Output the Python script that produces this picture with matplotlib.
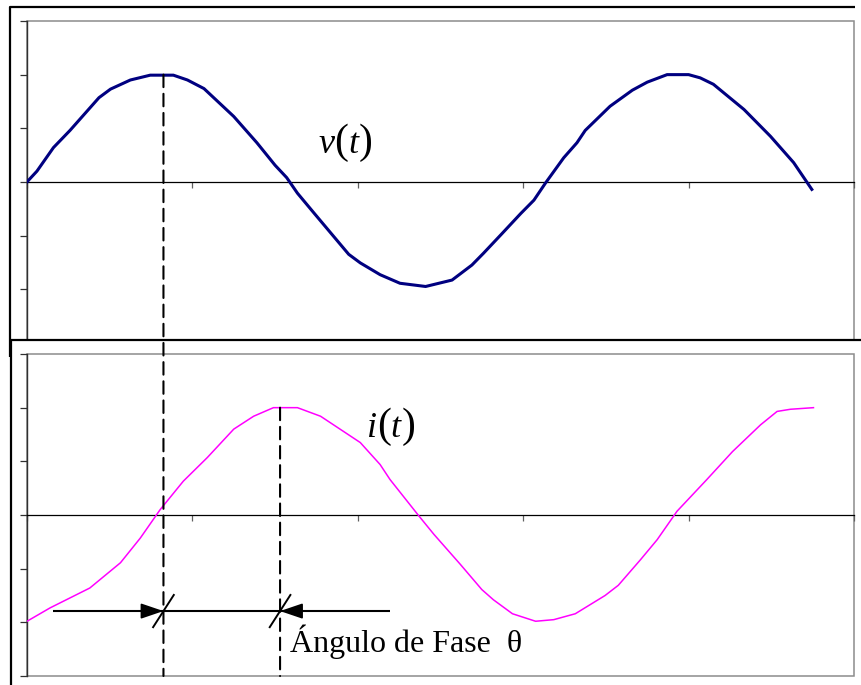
import matplotlib
matplotlib.use("Agg")
import matplotlib.pyplot as plt
from matplotlib.lines import Line2D
from matplotlib.patches import Rectangle, ConnectionPatch

# Voltage v(t) samples (time axis in radians)
t_v = [0.00, 0.12, 0.32, 0.52, 0.87, 1.01, 1.25, 1.49, 1.77, 1.94, 2.14, 2.50,
       2.78, 3.00, 3.14, 3.27, 3.47, 3.89, 4.03, 4.27, 4.51, 4.82, 5.14, 5.38,
       5.52, 5.74, 5.97, 6.13, 6.27, 6.49, 6.65, 6.75, 7.05, 7.32, 7.50, 7.74,
       8.00, 8.14, 8.30, 8.67, 8.99, 9.27, 9.49]
v = [0.00, 0.20, 0.64, 0.96, 1.57, 1.73, 1.90, 1.99, 1.99, 1.90, 1.74, 1.22,
     0.73, 0.31, 0.08, -0.21, -0.58, -1.35, -1.51, -1.73, -1.89, -1.95, -1.83, -1.55,
     -1.33, -0.97, -0.59, -0.34, -0.02, 0.45, 0.73, 0.96, 1.41, 1.71, 1.86, 2.00,
     2.00, 1.94, 1.82, 1.35, 0.85, 0.36, -0.14]

# Current i(t) samples
t_i = [0.00, 0.28, 0.76, 1.13, 1.37, 1.61, 1.89, 2.18, 2.50, 2.74, 2.98, 3.27,
       3.55, 4.03, 4.27, 4.39, 4.74, 4.92, 5.24, 5.50, 5.64, 5.87, 6.15, 6.37,
       6.63, 6.99, 7.15, 7.42, 7.62, 7.86, 8.22, 8.53, 8.87, 9.07, 9.23, 9.51]
i = [-1.98, -1.73, -1.36, -0.89, -0.43, 0.10, 0.63, 1.07, 1.60, 1.84, 2.00, 2.00,
     1.84, 1.35, 0.94, 0.66, -0.02, -0.36, -0.92, -1.39, -1.58, -1.84, -1.98, -1.95,
     -1.84, -1.50, -1.31, -0.83, -0.46, 0.07, 0.66, 1.18, 1.68, 1.93, 1.97, 2.00]

x_ticks = [0, 2, 4, 6, 8, 10]
y_ticks = [-3, -2, -1, 0, 1, 2, 3]

# Instants of the peaks used to mark the phase angle
t_v_peak = 1.65
t_i_peak = 3.06
arrow_y = -1.79
arrow_from = 0.32
arrow_to = 4.39

plt.rcParams["font.family"] = ["Liberation Serif", "DejaVu Serif"]

W, H = 861, 685
fig = plt.figure(figsize=(W / 100, H / 100), dpi=100)
fig.patch.set_facecolor("white")


def fx(x):
    return x / W


def fy(y):
    return 1 - y / H


def frame_line(xs, ys, z):
    fig.add_artist(Line2D([fx(x) for x in xs], [fy(y) for y in ys],
                          transform=fig.transFigure, color="black", lw=1.6,
                          zorder=z, solid_capstyle="butt"))


# Frame of the upper chart
frame_line([9.5, 9.5, 855], [357, 7, 7], 1)

ax1 = fig.add_axes([fx(27), fy(342.8), (854 - 27) / W, (342.8 - 21) / H])
ax1.set_zorder(0)

# Frame of the lower chart, laid over the upper one
fig.add_artist(Rectangle((fx(11), fy(685)), (861 - 11) / W, (685 - 339.5) / H,
                         transform=fig.transFigure, facecolor="white",
                         edgecolor="none", zorder=2))
frame_line([11, 11, 861], [685, 339.5, 339.5], 2.1)

ax2 = fig.add_axes([fx(27), fy(676), (854 - 27) / W, (676 - 354) / H])
ax2.set_zorder(3)


def setup(ax):
    ax.set_xlim(0, 10)
    ax.set_ylim(-3, 3)
    ax.set_xticks(x_ticks)
    ax.set_yticks(y_ticks)
    ax.set_xticklabels([])
    ax.set_yticklabels([])
    ax.spines["top"].set_visible(False)
    ax.spines["right"].set_visible(False)
    ax.spines["left"].set_color("#303030")
    ax.spines["left"].set_linewidth(1.0)
    ax.spines["bottom"].set_position(("data", 0))
    ax.spines["bottom"].set_color("black")
    ax.spines["bottom"].set_linewidth(0.9)
    ax.tick_params(axis="y", direction="out", length=5.2, width=0.9, color="#303030")
    ax.tick_params(axis="x", direction="out", length=4, width=0.9, color="#606060")
    ax.add_patch(Rectangle((0, 0), 1, 1, transform=ax.transAxes, fill=False,
                           edgecolor="#8c8c8c", lw=1.1, clip_on=False, zorder=0.5))


setup(ax1)
setup(ax2)

ax1.plot(t_v, v, color="#000080", lw=2.2, solid_joinstyle="round", zorder=3)
ax2.plot(t_i, i, color="#ff00ff", lw=1.1, zorder=3)


def func_label(ax, x, y, name, offsets_px):
    # italic letters with taller upright parentheses, set piece by piece
    parts = [(name, "italic", 26), ("(", "normal", 30),
             ("t", "italic", 26), (")", "normal", 30)]
    for (s, style, size), dx in zip(parts, offsets_px):
        ax.annotate(s, xy=(x, y), xytext=(dx * 0.72, 0),
                    textcoords="offset points", fontsize=size,
                    fontstyle=style, ha="left", va="baseline")


func_label(ax1, 3.53, 0.54, "v", [0, 15, 29, 40])
func_label(ax2, 4.11, 1.46, "i", [0, 10, 24, 35])

# Vertical dashed guides through both peaks
for t0, ax_top, y_top in ((t_v_peak, ax1, max(v)), (t_i_peak, ax2, max(i))):
    con = ConnectionPatch(xyA=(t0, y_top), coordsA=ax_top.transData,
                          xyB=(t0, -3), coordsB=ax2.transData,
                          color="black", lw=1.5, linestyle=(0, (6, 3.2)),
                          zorder=5)
    fig.add_artist(con)

# Phase-angle dimension line
ax2.plot([arrow_from, arrow_to], [arrow_y, arrow_y], color="black", lw=1.5,
         solid_capstyle="butt", zorder=4)
head = "-|>,head_length=0.5,head_width=0.17"
ax2.annotate("", xy=(t_v_peak, arrow_y), xytext=(t_v_peak - 0.6, arrow_y),
             arrowprops=dict(arrowstyle=head, mutation_scale=28, color="black",
                             lw=1.2, shrinkA=0, shrinkB=0), zorder=4)
ax2.annotate("", xy=(t_i_peak, arrow_y), xytext=(t_i_peak + 0.6, arrow_y),
             arrowprops=dict(arrowstyle=head, mutation_scale=28, color="black",
                             lw=1.2, shrinkA=0, shrinkB=0), zorder=4)
for t0 in (t_v_peak, t_i_peak):
    ax2.plot([t0 + 0.125, t0 - 0.125], [arrow_y + 0.30, arrow_y - 0.30],
             color="black", lw=1.4, zorder=4)

ax2.text(3.18, -2.56, "Ángulo de Fase  θ", fontsize=23, va="baseline")

fig.savefig("out.png", dpi=100)
